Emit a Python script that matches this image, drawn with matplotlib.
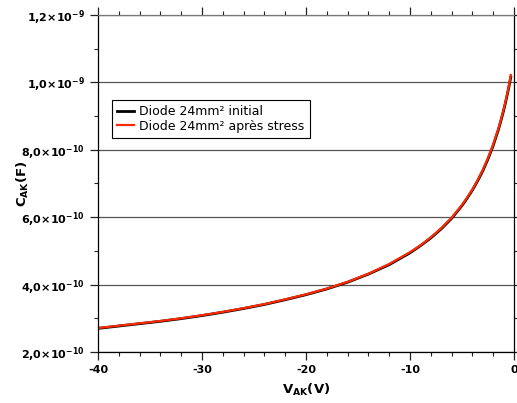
import matplotlib
matplotlib.use("Agg")
import matplotlib.pyplot as plt
from matplotlib.ticker import MultipleLocator, FixedLocator

plt.rcParams['font.family'] = ['DejaVu Sans']
plt.rcParams['mathtext.fontset'] = 'custom'
plt.rcParams['mathtext.rm'] = 'DejaVu Sans:bold'
plt.rcParams['mathtext.it'] = 'DejaVu Sans:bold'
plt.rcParams['mathtext.bf'] = 'DejaVu Sans:bold'

# data (V in volts, C in farads)
v_ak = [-40, -38, -36, -34, -32, -30, -28, -26, -24, -22, -20, -18, -16,
        -14, -12, -10, -9, -8, -7, -6, -5, -4.5, -4, -3.5, -3, -2.5, -2,
        -1.5, -1.25, -1, -0.8, -0.6, -0.45, -0.3]
c_initial = [2.70e-10, 2.77e-10, 2.84e-10, 2.91e-10, 2.99e-10, 3.08e-10,
             3.18e-10, 3.29e-10, 3.41e-10, 3.55e-10, 3.70e-10, 3.87e-10,
             4.07e-10, 4.31e-10, 4.59e-10, 4.94e-10, 5.15e-10, 5.38e-10,
             5.65e-10, 5.96e-10, 6.34e-10, 6.56e-10, 6.80e-10, 7.07e-10,
             7.37e-10, 7.72e-10, 8.12e-10, 8.59e-10, 8.86e-10, 9.15e-10,
             9.41e-10, 9.69e-10, 9.92e-10, 1.016e-9]
c_stress = [2.71e-10, 2.78e-10, 2.85e-10, 2.92e-10, 3.00e-10, 3.09e-10,
            3.19e-10, 3.30e-10, 3.42e-10, 3.56e-10, 3.71e-10, 3.88e-10,
            4.08e-10, 4.32e-10, 4.61e-10, 4.96e-10, 5.16e-10, 5.40e-10,
            5.67e-10, 5.98e-10, 6.36e-10, 6.58e-10, 6.82e-10, 7.09e-10,
            7.40e-10, 7.75e-10, 8.15e-10, 8.62e-10, 8.89e-10, 9.18e-10,
            9.44e-10, 9.72e-10, 9.95e-10, 1.022e-9]

y_ticks = [2e-10, 4e-10, 6e-10, 8e-10, 1.0e-9, 1.2e-9]
y_labels = ['2,0×10$^{-10}$', '4,0×10$^{-10}$', '6,0×10$^{-10}$',
            '8,0×10$^{-10}$', '1,0×10$^{-9}$', '1,2×10$^{-9}$']

fig = plt.figure(figsize=(5.17, 4.03), dpi=100)
ax = fig.add_axes([0.1896, 0.1266, 0.8044, 0.8362])

ax.plot(v_ak, c_initial, color='black', lw=2.0, label='Diode 24mm² initial')
ax.plot(v_ak, c_stress, color='#ff2a00', lw=1.6, label='Diode 24mm² après stress')

ax.set_xlim(-40, 0)
ax.set_ylim(2e-10, 1.2e-9)
ax.xaxis.set_minor_locator(MultipleLocator(2))
ax.yaxis.set_major_locator(FixedLocator(y_ticks))
ax.yaxis.set_minor_locator(MultipleLocator(1e-10))
ax.set_yticklabels(y_labels)
ax.set_xticks([-40, -30, -20, -10, 0])
ax.set_xticklabels(['-40', '-30', '-20', '-10', '0'])

ax.grid(axis='y', which='major', color='#555555', lw=0.9)
ax.tick_params(which='both', direction='out', top=True, right=True,
               labeltop=False, labelright=False, color='#222222')
ax.tick_params(which='major', length=6, width=0.9, labelsize=8)
ax.tick_params(which='minor', length=3, width=0.8)
for lab in ax.get_xticklabels() + ax.get_yticklabels():
    lab.set_fontweight('bold')
for name, sp in ax.spines.items():
    sp.set_linewidth(0.9)
ax.spines['top'].set_color('#777777')

ax.set_xlabel(r'$V_{AK}(V)$', fontsize=9.5)
ax.set_ylabel(r'$C_{AK}(F)$', fontsize=9.5)
ax.xaxis.set_label_coords(0.5, -0.09)
ax.yaxis.set_label_coords(-0.162, 0.5)

leg = ax.legend(loc='lower left', bbox_to_anchor=(0.018, 0.615), fontsize=9,
                fancybox=False, framealpha=1, edgecolor='black',
                handlelength=1.3, borderpad=0.45, labelspacing=0.12,
                handletextpad=0.45)
leg.get_frame().set_linewidth(0.8)

fig.savefig('out.png', dpi=100)
